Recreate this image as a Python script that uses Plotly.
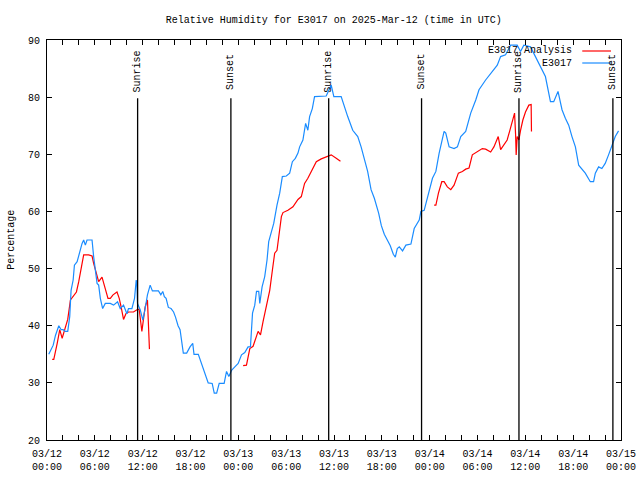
import pandas as pd
import plotly.graph_objects as go

# ---------------- data ----------------
START = "2025-03-12 00:00"

# E3017 observations: hours after 03/12 00:00 UTC, relative humidity (%)
obs_hours = [0.22, 0.52, 0.78, 1.06, 1.48, 1.78, 2.02, 2.31, 2.6, 2.85, 3.02, 3.28, 3.44, 3.78, 4.1,
             4.4, 4.6, 4.81, 5.02, 5.65, 5.85, 6.06, 6.28, 6.48, 6.69, 6.98, 7.31, 7.94, 8.35, 8.85,
             9.19, 9.6, 10.02, 10.22, 10.65, 10.98, 11.19, 11.28, 11.35, 11.69, 12.02, 12.31, 12.6,
             12.94, 13.22, 13.98, 14.28, 14.52, 14.72, 14.94, 15.22, 15.56, 15.88, 16.12, 16.44,
             16.69, 17.1, 17.52, 17.94, 18.28, 18.44, 18.98, 19.4, 19.81, 20.22, 20.72, 20.98, 21.28,
             21.6, 22.22, 22.52, 22.81, 23.15, 23.56, 23.98, 24.4, 24.81, 25.22, 25.52, 25.78, 26.06,
             26.28, 26.56, 26.69, 26.98, 27.31, 27.6, 27.81, 28.15, 28.44, 28.85, 29.19, 29.52, 30.02,
             30.44, 30.78, 31.15, 31.48, 31.69, 32.1, 32.44, 32.72, 32.94, 33.28, 33.56, 33.98, 35.02,
             35.65, 35.98, 36.9, 37.31, 37.72, 38.35, 38.98, 39.4, 39.81, 40.22, 40.65, 41.06, 41.6,
             41.94, 42.31, 42.69, 43.06, 43.44, 43.69, 43.94, 44.19, 44.6, 45.02, 45.65, 46.06, 46.69,
             46.9, 47.31, 47.94, 48.35, 48.78, 49.19, 49.81, 50.02, 50.44, 51.06, 51.48, 51.9, 52.52,
             53.15, 53.78, 54.19, 55.02, 55.65, 56.48, 56.9, 57.52, 58.15, 58.98, 59.4, 59.81, 60.65,
             61.28, 61.9, 62.52, 63.15, 63.56, 64.1, 64.6, 65.02, 65.44, 65.85, 66.28, 66.69, 67.1,
             67.52, 68.15, 68.56, 68.78, 69.19, 69.6, 70.02, 70.44, 70.85, 71.28, 71.69]
obs_values = [35.0, 36.0, 36.6, 38.3, 40.0, 39.3, 39.3, 39.0, 39.0, 41.6, 46.2, 48.0, 50.6, 51.2, 53.0,
              54.4, 55.0, 54.1, 55.0, 55.0, 52.1, 49.4, 47.4, 47.1, 44.8, 43.0, 43.9, 43.9, 43.6, 44.2,
              43.0, 43.6, 42.1, 43.0, 43.0, 44.8, 48.0, 47.1, 43.9, 42.8, 41.0, 43.0, 45.4,
              47.1, 46.1, 46.1, 45.4, 46.0, 45.1, 44.8, 43.2, 43.0, 42.4, 41.5, 40.0,
              39.3, 35.2, 35.2, 36.3, 36.9, 35.0, 35.0, 33.4, 31.7, 30.0, 29.9, 28.2, 28.2,
              29.9, 29.9, 32.0, 31.1, 32.2, 32.8, 33.4, 34.9, 35.3, 36.3, 36.3, 42.2, 43.6,
              46.0, 46.0, 43.9, 46.8, 48.6, 51.5, 54.7, 56.4, 57.9, 61.1, 63.2, 66.1, 66.2,
              66.7, 68.7, 69.3, 70.2, 71.3, 72.5, 75.4, 74.2, 76.6, 78.0, 80.1, 80.1, 80.2,
              82.1, 80.1, 80.1, 78.3, 76.6, 74.2, 73.1, 71.3, 69.0, 67.0, 63.8, 62.3, 59.7,
              57.5, 56.0, 55.0, 54.0, 52.5, 52.0, 53.5, 53.8, 53.1, 54.1, 54.3, 57.0, 58.5,
              60.0, 60.2, 63.8, 65.8, 67.0, 70.2, 74.0, 73.7, 71.3, 71.0, 71.3, 73.1, 74.0,
              77.2, 79.5, 81.3, 83.0, 84.2, 85.6, 87.1, 87.4, 89.1, 89.1, 88.0, 89.1, 88.8,
              87.1, 85.3, 83.6, 79.2, 79.2, 81.0, 77.8, 76.3, 75.1, 73.1, 71.3, 68.1, 67.5,
              66.7, 65.2, 65.2, 66.7, 67.8, 67.5, 68.4, 69.9, 71.3, 73.1, 74.1]

# E3017 Analysis (None = no analysis, line break)
ana_hours = [0.65, 0.85, 1.28, 1.6, 1.9, 2.31, 2.6, 2.94, 3.35, 3.69, 3.98, 4.28, 4.6, 5.22, 5.65,
             5.85, 6.19, 6.48, 6.9, 7.22, 7.65, 7.94, 8.28, 8.78, 9.06, 9.31, 9.6, 9.9, 10.22, 10.85,
             11.28, 11.56, 11.9, 12.1, 12.31, 12.6, 12.72, 12.85,
             18.0,
             24.6, 25.02, 25.44, 25.85, 26.48, 26.78, 27.1, 27.52, 27.94, 28.28, 28.56, 28.85, 29.19,
             29.4, 29.6, 30.22, 30.85, 31.48, 31.9, 32.31, 32.72, 33.35, 33.78, 34.4, 35.02, 35.65,
             36.28, 36.81,
             42.0,
             48.56, 48.78, 49.1, 49.52, 49.81, 50.22, 50.65, 51.06, 51.6, 52.1, 52.52, 52.94, 53.35,
             53.98, 54.6, 55.02, 55.65, 56.06, 56.6, 56.9, 57.31, 57.72, 58.06, 58.35, 58.65, 58.78,
             58.85, 58.98, 59.19, 59.4, 59.69, 60.02, 60.44, 60.73, 60.77]
ana_values = [34.1, 34.1, 36.9, 39.3, 37.8, 39.8, 41.1, 44.5, 45.2, 45.9, 47.7, 49.7, 52.4, 52.4, 52.2,
              50.9, 48.9, 47.7, 48.5, 46.8, 44.8, 44.8, 45.4, 45.9, 44.8, 43.2, 41.1, 42.1, 42.4, 42.4,
              42.8, 42.9, 39.0, 41.1, 43.3, 44.5, 40.0, 35.9,
              None,
              33.0, 33.1, 36.0, 36.4, 39.0, 38.4, 40.7, 43.8, 46.2, 49.8, 52.7, 53.2, 56.8,
              59.1, 59.8, 60.2, 60.8, 62.1, 62.6, 64.9, 65.8, 67.5, 68.7, 69.2, 69.5, 69.9,
              69.3, 68.8,
              None,
              61.1, 61.1, 63.2, 65.2, 65.2, 64.3, 63.8, 64.6, 66.7, 67.0, 67.4, 67.6, 69.9,
              70.4, 71.0, 70.9, 70.4, 71.3, 73.1, 70.8, 71.6, 72.5, 74.2, 75.7, 77.2, 73.4,
              69.9, 73.1, 72.5, 74.2, 76.0, 77.4, 78.6, 78.7, 74.0]

sun_times = ["2025-03-12 11:22", "2025-03-12 23:04", "2025-03-13 11:20",
             "2025-03-13 22:59", "2025-03-14 11:12", "2025-03-14 22:59"]
sun_labels = ["Sunrise", "Sunset", "Sunrise", "Sunset", "Sunrise", "Sunset"]

tick_times = pd.date_range("2025-03-12 00:00", "2025-03-15 00:00", freq="6h")
tick_text = [t.strftime("%m/%d<br>%H:%M") for t in tick_times]

series_names = ["E3017 Analysis", "E3017"]
series_colors = ["#ff0000", "#1a8cff"]

# ---------------- figure ----------------
start = pd.Timestamp(START)
obs_x = start + pd.to_timedelta(obs_hours, unit="h")
ana_x = start + pd.to_timedelta(ana_hours, unit="h")

FONT = "Liberation Mono"

fig = go.Figure()
fig.add_trace(go.Scatter(x=ana_x, y=ana_values, mode="lines", name=series_names[0],
                         line=dict(color=series_colors[0], width=1.2), connectgaps=False))
fig.add_trace(go.Scatter(x=obs_x, y=obs_values, mode="lines", name=series_names[1],
                         line=dict(color=series_colors[1], width=1.2)))

# sunrise / sunset markers
for t, lab in zip(sun_times, sun_labels):
    fig.add_shape(type="line", xref="x", yref="y", x0=t, x1=t, y0=20, y1=79.8,
                  line=dict(color="black", width=1.3), layer="above")
    fig.add_annotation(x=t, xref="x", y=0.92, yref="paper", text=lab, textangle=-90,
                       showarrow=False, xanchor="center", yanchor="middle",
                       font=dict(family=FONT, size=10, color="black"))

# gnuplot-style key (text right, sample line on right)
key_y = [0.9725, 0.9425]
for name, col, ky in zip(series_names, series_colors, key_y):
    fig.add_annotation(x=0.918, xref="paper", y=ky, yref="paper", text=name, showarrow=False,
                       xanchor="right", yanchor="middle",
                       font=dict(family=FONT, size=10, color="black"))
    fig.add_shape(type="line", xref="paper", yref="paper", x0=0.9325, x1=0.9825, y0=ky, y1=ky,
                  line=dict(color=col, width=1.2))

# y axis title
fig.add_annotation(x=-0.063, xref="paper", y=0.5, yref="paper", text="Percentage",
                   textangle=-90, showarrow=False, xanchor="center", yanchor="middle",
                   font=dict(family=FONT, size=10, color="black"))

fig.update_layout(
    width=640, height=480,
    margin=dict(l=47, r=19, t=40, b=40, autoexpand=False),
    paper_bgcolor="white", plot_bgcolor="white",
    showlegend=False,
    title=dict(text="Relative Humidity for E3017 on 2025-Mar-12 (time in UTC)",
               x=0.5216, xanchor="center", y=0.96, yanchor="middle",
               font=dict(family=FONT, size=10, color="black")),
    font=dict(family=FONT, size=10, color="black"),
)

fig.update_xaxes(
    type="date", range=["2025-03-12 00:00", "2025-03-15 00:00"],
    tickvals=tick_times, ticktext=tick_text,
    ticks="inside", ticklen=5, tickcolor="black", tickwidth=1,
    minor=dict(dtick=2 * 3600 * 1000, ticks="inside", ticklen=5, tickcolor="black", showgrid=False),
    showline=True, linecolor="black", linewidth=1, mirror="ticks",
    showgrid=False, zeroline=False, automargin=False, ticklabelstandoff=4,
    tickfont=dict(family=FONT, size=10, color="black"),
)
fig.update_yaxes(
    range=[20, 90], dtick=10, tick0=20,
    ticks="inside", ticklen=5, tickcolor="black", tickwidth=1,
    showline=True, linecolor="black", linewidth=1, mirror="ticks",
    showgrid=False, zeroline=False, automargin=False, ticklabelstandoff=4,
    tickfont=dict(family=FONT, size=10, color="black"),
)

fig.write_html("out.html", config={"displayModeBar": False},
               post_script="document.body.style.margin='0px';document.body.style.overflow='hidden';")
